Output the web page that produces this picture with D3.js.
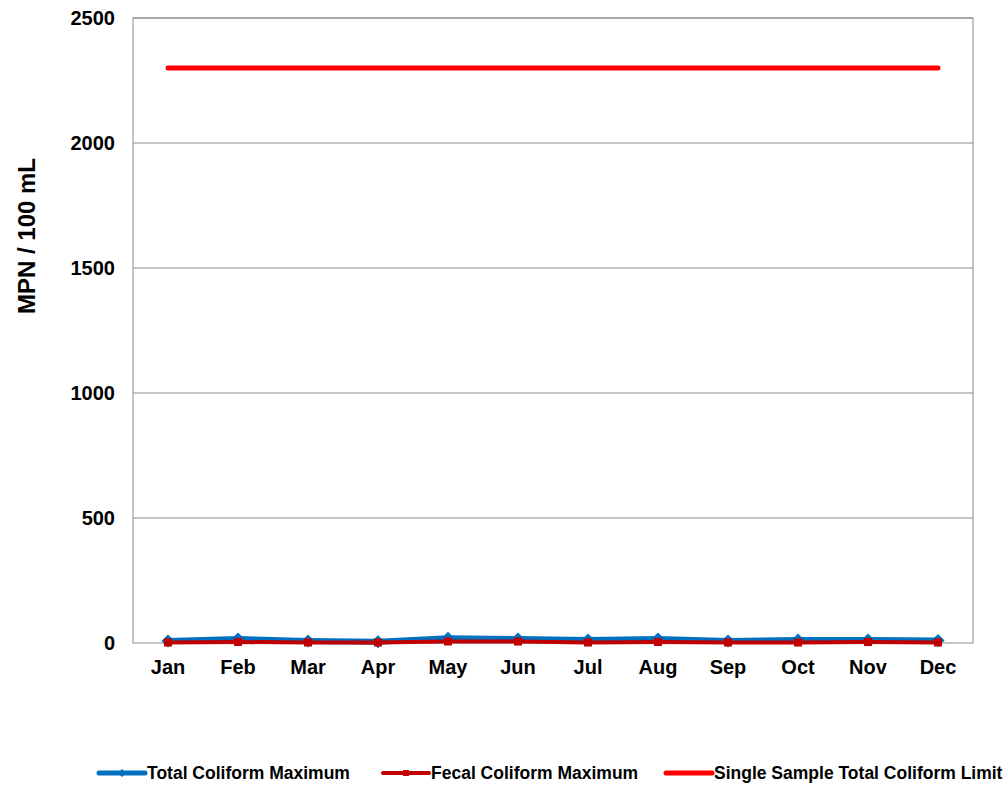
<!DOCTYPE html>
<html>
<head>
<meta charset="utf-8">
<script src="https://cdn.jsdelivr.net/npm/d3@7"></script>
<style>
  body { margin: 0; background: #fff; }
  svg { display: block; font-family: Arial, "Liberation Sans", sans-serif; }
</style>
</head>
<body>
<svg id="chart" width="1008" height="787"></svg>
<script>
// Monthly coliform results (MPN / 100 mL)
const months = ["Jan", "Feb", "Mar", "Apr", "May", "Jun", "Jul", "Aug", "Sep", "Oct", "Nov", "Dec"];
const totalColiformMax = [8, 16, 8, 5, 19, 16, 12, 16, 8, 12, 12, 10];
const fecalColiformMax = [2, 4, 2, 2, 6, 6, 2, 4, 2, 2, 4, 2];
const singleSampleLimit = [2300, 2300, 2300, 2300, 2300, 2300, 2300, 2300, 2300, 2300, 2300, 2300];
const yTicks = [0, 500, 1000, 1500, 2000, 2500];
const seriesNames = ["Total Coliform Maximum", "Fecal Coliform Maximum", "Single Sample Total Coliform Limit"];

const svg = d3.select("#chart");
const plot = { left: 133, right: 973, top: 18, bottom: 643 };

const x = d3.scaleBand().domain(months).range([plot.left, plot.right]);
const y = d3.scaleLinear().domain([0, 2500]).range([plot.bottom, plot.top]);
const cx = m => x(m) + x.bandwidth() / 2;

// Horizontal gridlines
svg.append("g")
  .selectAll("line")
  .data(yTicks.filter(t => t > 0))
  .join("line")
  .attr("x1", plot.left).attr("x2", plot.right)
  .attr("y1", d => y(d)).attr("y2", d => y(d))
  .attr("stroke", "#8c8c8c").attr("stroke-width", 1);

// Plot frame
svg.append("rect")
  .attr("x", plot.left).attr("y", plot.top)
  .attr("width", plot.right - plot.left).attr("height", plot.bottom - plot.top)
  .attr("fill", "none").attr("stroke", "#8c8c8c").attr("stroke-width", 1);

// Y axis labels
const yAxis = svg.append("g")
  .attr("transform", `translate(${plot.left},0)`)
  .call(d3.axisLeft(y).tickValues(yTicks).tickSize(0).tickPadding(18).tickFormat(d3.format("d")));
yAxis.select(".domain").remove();
yAxis.selectAll("text")
  .attr("font-size", 20).attr("font-weight", "bold").attr("fill", "#000")
  .attr("font-family", "Arial, 'Liberation Sans', sans-serif");

// X axis labels
const xAxis = svg.append("g")
  .attr("transform", `translate(0,${plot.bottom})`)
  .call(d3.axisBottom(x).tickSize(0).tickPadding(17));
xAxis.select(".domain").remove();
xAxis.selectAll("text")
  .attr("font-size", 20).attr("font-weight", "bold").attr("fill", "#000")
  .attr("font-family", "Arial, 'Liberation Sans', sans-serif");

// Y axis title
svg.append("text")
  .attr("transform", "translate(35,236) rotate(-90)")
  .attr("text-anchor", "middle")
  .attr("font-size", 24).attr("font-weight", "bold")
  .text("MPN / 100 mL");

const line = d3.line().x((d, i) => cx(months[i])).y(d => y(d));

// Limit line
svg.append("path").datum(singleSampleLimit)
  .attr("d", line).attr("fill", "none")
  .attr("stroke", "#ff0000").attr("stroke-width", 5).attr("stroke-linecap", "round");

// Total coliform line with diamond markers
svg.append("path").datum(totalColiformMax)
  .attr("d", line).attr("fill", "none")
  .attr("stroke", "#0070c0").attr("stroke-width", 6).attr("stroke-linejoin", "round");
svg.append("g").selectAll("path")
  .data(totalColiformMax)
  .join("path")
  .attr("transform", (d, i) => `translate(${cx(months[i])},${y(d)})`)
  .attr("d", d3.symbol(d3.symbolDiamond2, 110)())
  .attr("fill", "#0070c0");

// Fecal coliform line with square markers
svg.append("path").datum(fecalColiformMax)
  .attr("d", line).attr("fill", "none")
  .attr("stroke", "#c00000").attr("stroke-width", 4);
svg.append("g").selectAll("rect")
  .data(fecalColiformMax)
  .join("rect")
  .attr("x", (d, i) => cx(months[i]) - 4)
  .attr("y", d => y(d) - 4)
  .attr("width", 8).attr("height", 8)
  .attr("fill", "#c00000");

// Legend
const legendItems = [
  { name: seriesNames[0], color: "#0070c0", width: 5, marker: "diamond", x0: 99 },
  { name: seriesNames[1], color: "#c00000", width: 4, marker: "square", x0: 383 },
  { name: seriesNames[2], color: "#ff0000", width: 5, marker: null, x0: 666 }
];
const ly = 773;
const legend = svg.append("g");
legendItems.forEach(item => {
  const g = legend.append("g");
  g.append("line")
    .attr("x1", item.x0).attr("x2", item.x0 + 46)
    .attr("y1", ly).attr("y2", ly)
    .attr("stroke", item.color).attr("stroke-width", item.width).attr("stroke-linecap", "round");
  if (item.marker === "diamond") {
    g.append("path")
      .attr("transform", `translate(${item.x0 + 23},${ly})`)
      .attr("d", d3.symbol(d3.symbolDiamond2, 40)())
      .attr("fill", item.color);
  } else if (item.marker === "square") {
    g.append("rect")
      .attr("x", item.x0 + 20).attr("y", ly - 3)
      .attr("width", 6).attr("height", 6)
      .attr("fill", item.color);
  }
  g.append("text")
    .attr("x", item.x0 + 48).attr("y", ly + 6)
    .attr("font-size", 17.5).attr("font-weight", "bold")
    .text(item.name);
});
</script>
</body>
</html>
